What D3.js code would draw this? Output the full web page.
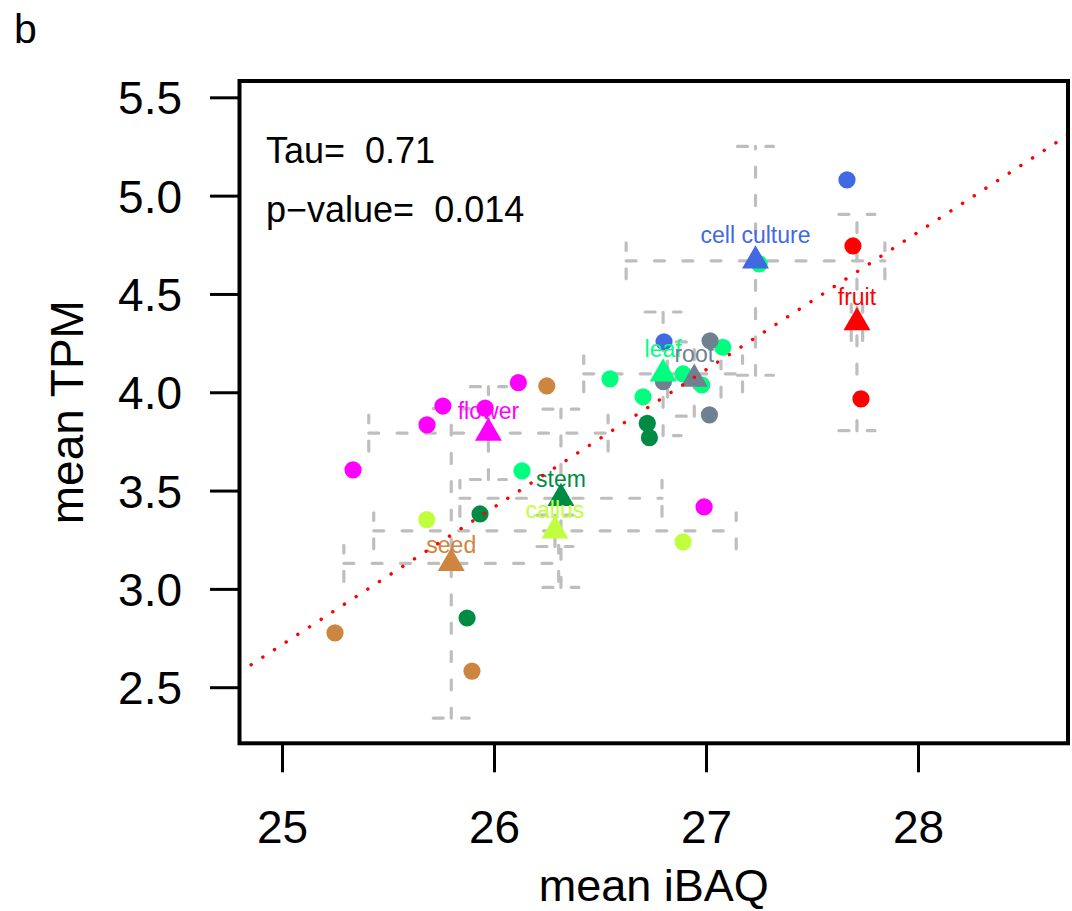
<!DOCTYPE html>
<html>
<head>
<meta charset="utf-8">
<script src="https://cdn.jsdelivr.net/npm/d3@7"></script>
<style>
  html, body { margin: 0; padding: 0; background: #fff; }
  svg { display: block; font-family: "Liberation Sans", Arial, Helvetica, sans-serif; }
</style>
</head>
<body>
<svg id="chart" width="1072" height="911"></svg>
<script>
// ---------------- data ----------------
const tissues = ["cell culture", "fruit", "leaf", "root", "flower", "stem", "callus", "seed"];
const tissueColors = ["#4169E1", "#FF0000", "#00FF7F", "#708090", "#FF00FF", "#008B45", "#C0FF3E", "#CD853F"];

// individual points (tissue, mean iBAQ, mean TPM)
const pointTissue = [
  "cell culture", "cell culture",
  "fruit", "fruit",
  "leaf", "leaf", "leaf", "leaf", "leaf", "leaf", "leaf",
  "root", "root", "root",
  "flower", "flower", "flower", "flower", "flower", "flower",
  "stem", "stem", "stem", "stem",
  "callus", "callus",
  "seed", "seed", "seed"
];
const pointIBAQ = [
  27.665, 26.802,
  27.693, 27.731,
  26.132, 26.547, 26.703, 26.892, 26.980, 27.079, 27.251,
  27.019, 26.799, 27.016,
  25.335, 25.684, 25.759, 25.958, 26.115, 26.991,
  25.934, 25.873, 26.723, 26.733,
  25.683, 26.892,
  26.249, 25.250, 25.896
];
const pointTPM = [
  5.080, 4.257,
  4.744, 3.966,
  3.600, 4.068, 3.977, 4.093, 4.037, 4.229, 4.653,
  4.262, 4.054, 3.885,
  3.605, 3.834, 3.930, 3.919, 4.049, 3.417,
  3.381, 2.852, 3.842, 3.769,
  3.352, 3.239,
  4.032, 2.776, 2.582
];

// label anchor (TPM value of the label baseline), one per tissue
const labelTPM = [4.761, 4.444, 4.178, 4.153, 3.863, 3.518, 3.359, 3.184];

const xTicks = [25, 26, 27, 28];
const yTicks = [2.5, 3.0, 3.5, 4.0, 4.5, 5.0, 5.5];
const statLines = ["Tau=  0.71", "p\u2212value=  0.014"];

// ---------------- layout ----------------
const box = { left: 239.5, right: 1068, top: 81, bottom: 743.3 };
const svg = d3.select("#chart");

const x = d3.scaleLinear().domain([24.7995, 28.7075]).range([box.left, box.right]);
const y = d3.scaleLinear().domain([2.2147, 5.583]).range([box.bottom, box.top]);
const color = d3.scaleOrdinal().domain(tissues).range(tissueColors);

const points = pointTissue.map((t, i) => ({ t, x: pointIBAQ[i], y: pointTPM[i] }));
const groups = tissues.map((t, i) => {
  const pts = points.filter(p => p.t === t);
  return {
    t,
    mx: d3.mean(pts, p => p.x),
    my: d3.mean(pts, p => p.y),
    sx: d3.deviation(pts, p => p.x),
    sy: d3.deviation(pts, p => p.y),
    ly: labelTPM[i]
  };
});

// clip for plot region
svg.append("defs").append("clipPath").attr("id", "plotclip")
  .append("rect")
  .attr("x", box.left).attr("y", box.top)
  .attr("width", box.right - box.left).attr("height", box.bottom - box.top);

const plot = svg.append("g").attr("clip-path", "url(#plotclip)");

// ---------------- error bars ----------------
const cap = 18;
const ebStyle = sel => sel.attr("fill", "none").attr("stroke", "#BEBEBE")
  .attr("stroke-width", 3.2).attr("stroke-linecap", "round")
  .attr("stroke-dasharray", "10 18.3");
const eb = plot.append("g");
groups.forEach(g => {
  const cx = x(g.mx), cy = y(g.my);
  const yLo = y(g.my - g.sy), yHi = y(g.my + g.sy);
  const xLo = x(g.mx - g.sx), xHi = x(g.mx + g.sx);
  // vertical bar
  eb.append("path").call(ebStyle).attr("d", `M${cx},${yLo}L${cx},${yHi}`);
  eb.append("path").call(ebStyle).attr("d", `M${cx - cap},${yLo}L${cx},${yLo}L${cx + cap},${yLo}`);
  eb.append("path").call(ebStyle).attr("d", `M${cx - cap},${yHi}L${cx},${yHi}L${cx + cap},${yHi}`);
  // horizontal bar
  eb.append("path").call(ebStyle).attr("d", `M${xLo},${cy}L${xHi},${cy}`);
  eb.append("path").call(ebStyle).attr("d", `M${xLo},${cy + cap}L${xLo},${cy}L${xLo},${cy - cap}`);
  eb.append("path").call(ebStyle).attr("d", `M${xHi},${cy + cap}L${xHi},${cy}L${xHi},${cy - cap}`);
});

// ---------------- points ----------------
plot.append("g").selectAll("circle").data(points).join("circle")
  .attr("cx", d => x(d.x)).attr("cy", d => y(d.y)).attr("r", 8.6)
  .attr("fill", d => color(d.t));

// ---------------- group mean triangles ----------------
const R = 10;
const triPath = `M0,${-1.5551 * R}L${1.3468 * R},${0.7776 * R}L${-1.3468 * R},${0.7776 * R}Z`;
plot.append("g").selectAll("path").data(groups).join("path")
  .attr("transform", d => `translate(${x(d.mx)},${y(d.my)})`)
  .attr("d", triPath)
  .attr("fill", d => color(d.t));

// labels
plot.append("g").selectAll("text").data(groups).join("text")
  .attr("x", d => x(d.mx)).attr("y", d => y(d.ly))
  .attr("text-anchor", "middle")
  .attr("font-size", 23)
  .attr("fill", d => color(d.t))
  .text(d => d.t);

// ---------------- regression line on group means ----------------
const mxBar = d3.mean(groups, g => g.mx), myBar = d3.mean(groups, g => g.my);
const slope = d3.sum(groups, g => (g.mx - mxBar) * (g.my - myBar)) / d3.sum(groups, g => (g.mx - mxBar) ** 2);
const intercept = myBar - slope * mxBar;
const [dx0, dx1] = x.domain();
plot.append("line")
  .attr("x1", x(dx0)).attr("y1", y(intercept + slope * dx0))
  .attr("x2", x(dx1)).attr("y2", y(intercept + slope * dx1))
  .attr("stroke", "#FF0000").attr("stroke-width", 3.4)
  .attr("stroke-linecap", "round").attr("stroke-dasharray", "0.1 13.8");

// ---------------- box ----------------
svg.append("rect")
  .attr("x", box.left).attr("y", box.top)
  .attr("width", box.right - box.left).attr("height", box.bottom - box.top)
  .attr("fill", "none").attr("stroke", "#000").attr("stroke-width", 4);

// ---------------- axes ----------------
const xAxis = d3.axisBottom(x).tickValues(xTicks).tickSize(29).tickPadding(0).tickFormat(d3.format("d"));
const gx = svg.append("g").attr("transform", `translate(0,${box.bottom})`).call(xAxis);
gx.select(".domain").remove();
gx.selectAll(".tick line").attr("stroke", "#000").attr("stroke-width", 3);
gx.selectAll(".tick text").attr("font-size", 46).attr("fill", "#000")
  .attr("font-family", "Liberation Sans, Arial, sans-serif")
  .attr("dy", null).attr("y", 843 - box.bottom);

const yAxis = d3.axisLeft(y).tickValues(yTicks).tickSize(29.5).tickPadding(0).tickFormat(d3.format(".1f"));
const gy = svg.append("g").attr("transform", `translate(${box.left},0)`).call(yAxis);
gy.select(".domain").remove();
gy.selectAll(".tick line").attr("stroke", "#000").attr("stroke-width", 3);
gy.selectAll(".tick text").attr("font-size", 46).attr("fill", "#000")
  .attr("font-family", "Liberation Sans, Arial, sans-serif")
  .attr("x", 182 - box.left).attr("dy", "0.358em").attr("text-anchor", "end");

// axis titles
svg.append("text").attr("x", (box.left + box.right) / 2).attr("y", 901)
  .attr("text-anchor", "middle").attr("font-size", 45).text("mean iBAQ");
svg.append("text").attr("transform", `translate(83,${(box.top + box.bottom) / 2}) rotate(-90)`)
  .attr("text-anchor", "middle").attr("font-size", 46).text("mean TPM");

// stats text
svg.append("g").selectAll("text").data(statLines).join("text")
  .attr("x", 266).attr("y", (d, i) => 163 + i * 59)
  .attr("font-size", 36).attr("xml:space", "preserve").style("white-space", "pre")
  .text(d => d);

// panel letter
svg.append("text").attr("x", 14).attr("y", 43).attr("font-size", 41).text("b");
</script>
</body>
</html>
